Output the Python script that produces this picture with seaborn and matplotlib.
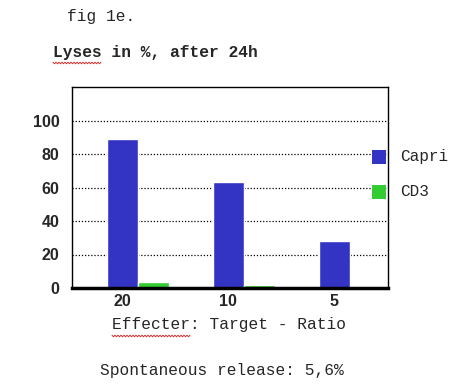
import numpy as np
import pandas as pd
import matplotlib
matplotlib.use("Agg")
import matplotlib.pyplot as plt
import seaborn as sns
from matplotlib.lines import Line2D
from matplotlib.patches import Rectangle

categories = ["20", "10", "5"]
capri = [89, 63, 28]
cd3 = [3.5, 1.6, 0.8]
series = ["Capri", "CD3"]
colors = ["#3434C4", "#33CC33"]

df = pd.DataFrame({
    "ratio": categories * 2,
    "lysis": capri + cd3,
    "series": ["Capri"] * 3 + ["CD3"] * 3,
})

sns.set_style("white")
fig = plt.figure(figsize=(4.72, 3.9), dpi=100)
ax = fig.add_axes([72/472, 1-288/390, 316/472, 201/390])

sns.barplot(data=df, x="ratio", y="lysis", hue="series", order=categories,
            hue_order=series, palette=colors, width=0.59, dodge=True,
            saturation=1, ax=ax, legend=False)

ax.set_xlim(-0.625, 2.36)
ax.set_ylim(0, 120)
ax.set_yticks([0, 20, 40, 60, 80, 100])
ax.set_yticklabels(["0", "20", "40", "60", "80", "100"],
                   fontfamily="Liberation Sans", fontweight="bold", fontsize=11.5)
ax.set_xticks([i - 0.148 for i in range(len(categories))])
ax.set_xticklabels(categories, fontfamily="Liberation Sans", fontweight="bold", fontsize=11.5)
ax.tick_params(axis="y", length=0, pad=9)
ax.tick_params(axis="x", length=0, pad=4)
ax.set_xlabel("")
ax.set_ylabel("")
for y in [20, 40, 60, 80, 100]:
    ax.axhline(y, color="black", linestyle=(0, (1, 1.5)), linewidth=0.9, zorder=0)
for s in ["left", "right", "top"]:
    ax.spines[s].set_visible(True)
    ax.spines[s].set_color("black")
    ax.spines[s].set_linewidth(1.0)
ax.spines["bottom"].set_color("black")
ax.spines["bottom"].set_linewidth(2.5)

# legend
for i, (lab, col) in enumerate(zip(series, colors)):
    yc = 157 + 35 * i
    fig.patches.append(Rectangle((372/472, 1-(yc+7)/390), 14/472, 14/390,
                                 transform=fig.transFigure, facecolor=col,
                                 edgecolor="none", zorder=5))
    fig.text(400/472, 1-yc/390, lab, fontfamily="Liberation Mono", fontsize=11.5,
             va="center", ha="left")

mono = "Liberation Mono"
fs = 11.7
fig.text(67/472, 1-17/390, "fig 1e.", fontfamily=mono, fontsize=fs, va="center", ha="left")
fig.text(53/472, 1-52/390, "Lyses in %, after 24h", fontfamily=mono, fontsize=fs,
         fontweight="bold", va="center", ha="left")
fig.text(112/472, 1-325/390, "Effecter: Target - Ratio", fontfamily=mono, fontsize=fs,
         va="center", ha="left")
fig.text(100/472, 1-370/390, "Spontaneous release: 5,6%", fontfamily=mono, fontsize=fs,
         va="center", ha="left")

def squiggle(x0, x1, y):
    xs = np.arange(x0, x1 + 0.1, 1.5)
    ys = y + np.where(np.arange(len(xs)) % 2 == 0, -0.8, 0.8)
    fig.lines.append(Line2D(xs/472, 1-ys/390, transform=fig.transFigure,
                            color="#D03030", linewidth=0.7))

squiggle(53, 101, 63)
squiggle(112, 191, 336)

fig.savefig("out.png", dpi=100, facecolor="white")
